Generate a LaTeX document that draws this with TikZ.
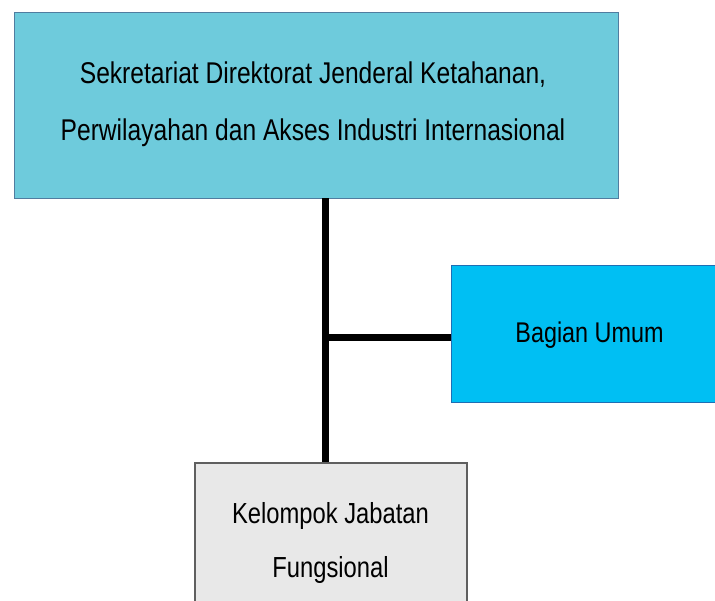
\documentclass[tikz,border=0pt]{standalone}
\usepackage{fontspec}
\setmainfont{Liberation Sans}[FakeStretch=0.82]
\definecolor{topfill}{RGB}{110,203,220}
\definecolor{topline}{RGB}{80,125,160}
\definecolor{umfill}{RGB}{0,191,243}
\definecolor{umline}{RGB}{30,110,180}
\definecolor{grayfill}{RGB}{232,232,232}
\definecolor{grayline}{RGB}{95,95,95}
\tikzset{
  box/.style={draw, inner sep=0pt, outer sep=0pt},
  lbl/.style={inner sep=0pt, align=center, text=black},
  conn/.style={line width=7pt, black},
}
\begin{document}
\begin{tikzpicture}[x=1pt,y=-1pt]
\useasboundingbox (0,0) rectangle (715,600);
\node[box, fill=topfill, draw=topline, line width=1pt, minimum width=604pt, minimum height=186pt] (top) at (316,105) {};
\node[lbl, font=\fontsize{30}{57}\selectfont, anchor=base] (toptext) at (313,140) {Sekretariat Direktorat Jenderal Ketahanan,\\Perwilayahan dan Akses Industri Internasional};
\node[box, fill=umfill, draw=umline, line width=1pt, minimum width=280pt, minimum height=137pt, anchor=north west] (umum) at (451,265) {};
\node[lbl, font=\fontsize{28.5}{30}\selectfont, anchor=base] (umumtext) at (589.5,342) {Bagian Umum};
\node[box, fill=grayfill, draw=grayline, line width=2pt, minimum width=272pt, minimum height=170pt, anchor=north west] (jab) at (195,463) {};
\node[lbl, font=\fontsize{29}{54}\selectfont, anchor=base] (jabtext) at (330.5,577) {Kelompok Jabatan\\Fungsional};
\coordinate (split) at (325,337);
\coordinate (topout) at (325,198);
\draw[conn] (topout) -- (325,462);
\draw[conn] (split) -- (umum.west |- split);
\end{tikzpicture}
\end{document}
